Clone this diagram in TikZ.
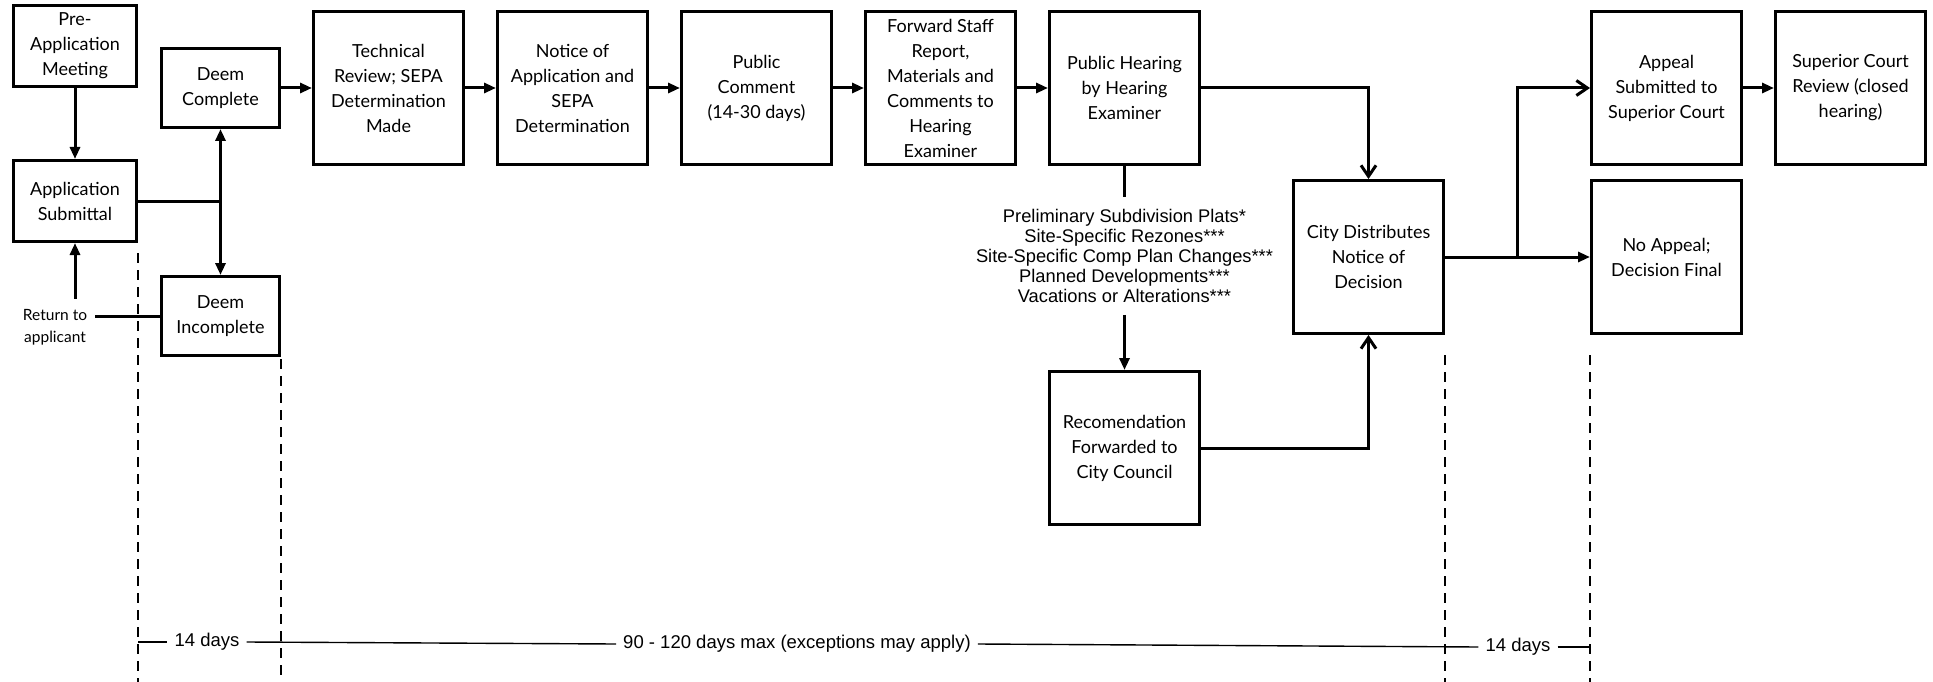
\documentclass[tikz,border=0pt]{standalone}
\usepackage{fontspec}
\setmainfont{Lato}
\newfontfamily\helv{Liberation Sans}
\usetikzlibrary{positioning,arrows.meta}

\begin{document}
\begin{tikzpicture}[x=1pt, y=-1pt, node distance=31pt,
  box/.style={draw, line width=3.3pt, minimum width=149.7pt, minimum height=152.7pt, align=center, font=\fontsize{18}{25}\selectfont},
  smallbox/.style={box, minimum width=117.7pt, minimum height=78.7pt},
  link/.style={line width=3pt},
  flow/.style={link, -{Triangle[length=12pt,width=10pt]}},
  open/.style={link, -{Straight Barb[length=11pt,width=15pt]}},
  guide/.style={line width=1.3pt, dash pattern=on 10pt off 7pt},
  span/.style={font=\helv\fontsize{18.5}{20}\selectfont, inner sep=7pt}]

\useasboundingbox (0,0) rectangle (1933,682);
\coordinate (bottom) at (0,682);

% Intake
\node[smallbox, minimum width=122.7pt, minimum height=80.7pt] (pre) at (75,46) {Pre-\\Application\\Meeting};
\node[smallbox, minimum width=122.7pt, minimum height=80.7pt] (sub) at (75,201) {Application\\Submittal};
\node[smallbox] (dcomp) at (220.5,88) {Deem\\Complete};
\node[smallbox] (dinc) at (220.5,316) {Deem\\Incomplete};
\node[align=center, font=\fontsize{15.5}{22}\selectfont, inner xsep=8pt] (ret) at (55,327) {Return to\\applicant};

% Main row
\node[box, right=of dcomp] (tech) {Technical\\Review; SEPA\\Determination\\Made};
\node[box, right=of tech] (notice) {Notice of\\Application and\\SEPA\\Determination};
\node[box, right=of notice] (comment) {Public\\Comment\\(14-30 days)};
\node[box, right=of comment] (forward) {Forward Staff\\Report,\\Materials and\\Comments to\\Hearing\\Examiner};
\node[box, right=of forward] (hearing) {Public Hearing\\by Hearing\\Examiner};

% Council path
\node[align=center, font=\helv\fontsize{18.3}{20}\selectfont, inner ysep=12pt, below=31pt of hearing] (types)
  {Preliminary Subdivision Plats*\\Site-Specific Rezones***\\Site-Specific Comp Plan Changes***\\Planned Developments***\\Vacations or Alterations***};
\node[box, below=204pt of hearing] (recom) {Recomendation\\Forwarded to\\City Council};
\node[box] (city) at (1368.5,257) {City Distributes\\Notice of\\Decision};

% Appeal
\node[box] (appeal) at (1666.5,88) {Appeal\\Submitted to\\Superior Court};
\node[box, right=of appeal] (superior) {Superior Court\\Review (closed\\hearing)};
\node[box] (noappeal) at (1666.5,257) {No Appeal;\\Decision Final};
\coordinate (split) at (1517,257);

% Connectors
\draw[flow] (pre) -- (sub);
\draw[flow] ([yshift=7pt]ret.north -| sub.south) -- (sub.south);
\draw[link] (dinc.west) -- (dinc.west -| ret.east);
\draw[link] (sub.east) -- (sub.east -| dcomp.south);
\draw[link, {Triangle[length=12pt,width=10pt]}-{Triangle[length=12pt,width=10pt]}] (dcomp.south) -- (dinc.north);
\draw[flow] (dcomp) -- (tech);
\draw[flow] (tech) -- (notice);
\draw[flow] (notice) -- (comment);
\draw[flow] (comment) -- (forward);
\draw[flow] (forward) -- (hearing);
\draw[open] (hearing.east) -| (city.north);
\draw[link] (hearing) -- (types);
\draw[flow] (types) -- (recom);
\draw[open] (recom.east) -| (city.south);
\draw[flow] (city.east) -- (noappeal.west);
\draw[open] (split) |- (appeal.west);
\draw[flow] (appeal) -- (superior);

% Time frames
\draw[guide] ([yshift=-10pt]sub.south east) -- (sub.south east |- bottom);
\draw[guide] ([yshift=-2pt]dinc.south east) -- (dinc.south east |- bottom);
\draw[guide] ([yshift=-20pt]city.south east) -- (city.south east |- bottom);
\draw[guide] ([yshift=-20pt]noappeal.south west) -- (noappeal.south west |- bottom);

\node[span] (dfirst) at (207,642) {14 days};
\node[span] (dmain) at (797,644) {90 - 120 days max (exceptions may apply)};
\node[span] (dlast) at (1518,647) {14 days};
\draw[line width=1.4pt] (sub.south east |- dfirst.west) -- (dfirst.west);
\draw[line width=1.4pt] (dfirst.east) -- (dmain.west);
\draw[line width=1.4pt] (dmain.east) -- (dlast.west);
\draw[line width=1.4pt] (dlast.east) -- (noappeal.south west |- dlast.east);

\end{tikzpicture}
\end{document}
